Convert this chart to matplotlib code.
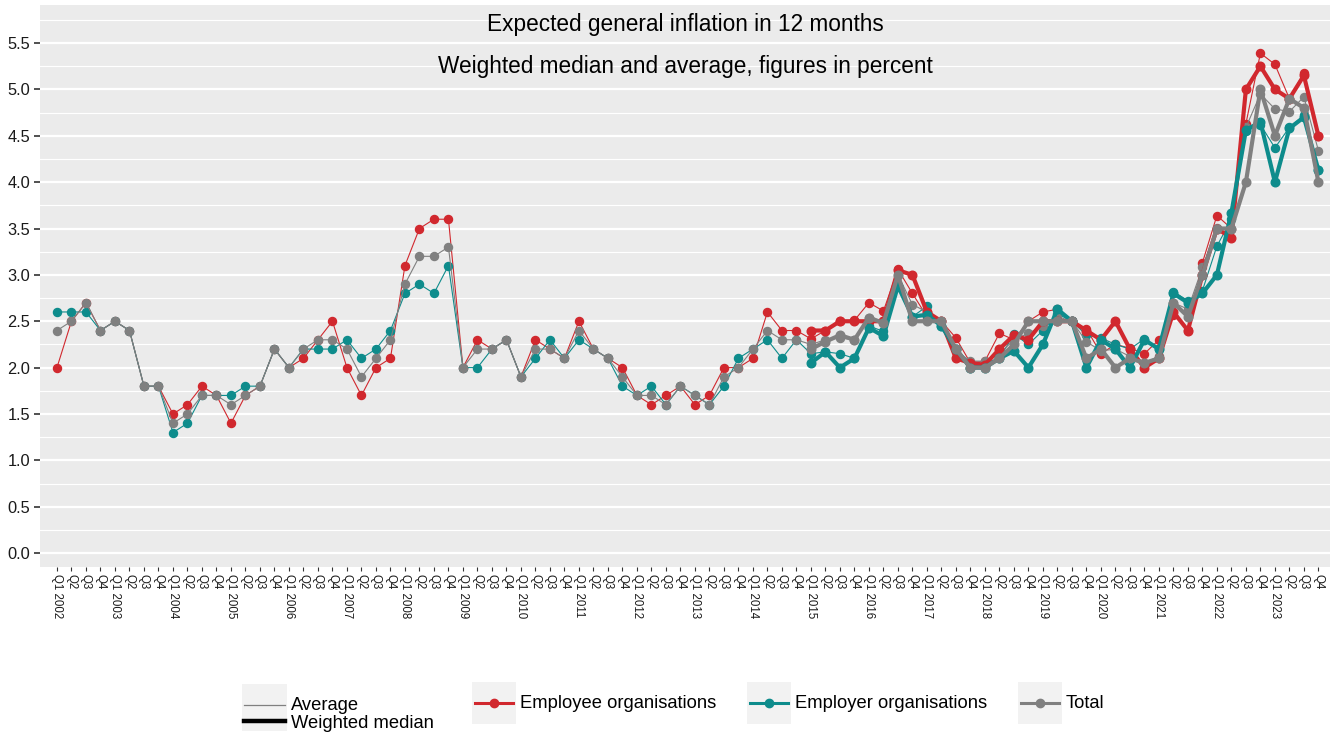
import matplotlib
matplotlib.use("Agg")
import matplotlib.pyplot as plt
from matplotlib.lines import Line2D
from matplotlib.patches import Rectangle
import numpy as np

plt.rcParams['font.family'] = ['Liberation Sans', 'DejaVu Sans']

years = list(range(2002, 2024))
quarter_labels = []
for y in years:
    for q in range(1, 5):
        quarter_labels.append(f"Q{q} {y}" if q == 1 else f"Q{q}")

# Average (thin lines), 2002 Q1 - 2023 Q4
avg_employee = [
    2.0, 2.5, 2.7, 2.4, 2.5, 2.4, 1.8, 1.8, 1.5, 1.6, 1.8, 1.7,
    1.4, 1.7, 1.8, 2.2, 2.0, 2.1, 2.3, 2.5, 2.0, 1.7, 2.0, 2.1,
    3.1, 3.5, 3.6, 3.6, 2.0, 2.3, 2.2, 2.3, 1.9, 2.3, 2.2, 2.1,
    2.5, 2.2, 2.1, 2.0, 1.7, 1.6, 1.7, 1.8, 1.6, 1.7, 2.0, 2.0,
    2.1, 2.6, 2.4, 2.4,
    2.31, 2.40, 2.50, 2.51, 2.70, 2.61, 3.06, 2.80,
    2.55, 2.50, 2.32, 2.05, 2.07, 2.37, 2.30, 2.50,
    2.60, 2.63, 2.50, 2.42, 2.15, 2.25, 2.21, 2.15,
    2.30, 2.57, 2.41, 3.13, 3.64, 3.50, 4.63, 5.39,
    5.27, 4.90, 5.18, 4.50]
avg_employer = [
    2.6, 2.6, 2.6, 2.4, 2.5, 2.4, 1.8, 1.8, 1.3, 1.4, 1.7, 1.7,
    1.7, 1.8, 1.8, 2.2, 2.0, 2.2, 2.2, 2.2, 2.3, 2.1, 2.2, 2.4,
    2.8, 2.9, 2.8, 3.1, 2.0, 2.0, 2.2, 2.3, 1.9, 2.1, 2.3, 2.1,
    2.3, 2.2, 2.1, 1.8, 1.7, 1.8, 1.6, 1.8, 1.7, 1.6, 1.8, 2.1,
    2.2, 2.3, 2.1, 2.3,
    2.15, 2.17, 2.15, 2.10, 2.45, 2.39, 2.88, 2.55,
    2.66, 2.45, 2.20, 2.00, 2.05, 2.10, 2.36, 2.25,
    2.40, 2.58, 2.50, 2.35, 2.32, 2.25, 2.20, 2.31,
    2.20, 2.82, 2.72, 2.83, 3.31, 3.60, 4.55, 4.62,
    4.37, 4.59, 4.72, 4.13]
avg_total = [
    2.4, 2.5, 2.7, 2.4, 2.5, 2.4, 1.8, 1.8, 1.4, 1.5, 1.7, 1.7,
    1.6, 1.7, 1.8, 2.2, 2.0, 2.2, 2.3, 2.3, 2.2, 1.9, 2.1, 2.3,
    2.9, 3.2, 3.2, 3.3, 2.0, 2.2, 2.2, 2.3, 1.9, 2.2, 2.2, 2.1,
    2.4, 2.2, 2.1, 1.9, 1.7, 1.7, 1.6, 1.8, 1.7, 1.6, 1.9, 2.0,
    2.2, 2.4, 2.3, 2.3,
    2.25, 2.30, 2.32, 2.30, 2.54, 2.50, 3.00, 2.68,
    2.60, 2.50, 2.18, 2.07, 2.07, 2.15, 2.30, 2.37,
    2.45, 2.55, 2.50, 2.28, 2.18, 2.20, 2.12, 2.05,
    2.12, 2.70, 2.63, 3.08, 3.51, 3.50, 4.59, 4.95,
    4.79, 4.76, 4.92, 4.34]

# Weighted median (thick lines), 2015 Q1 - 2023 Q4
median_start = quarter_labels.index("Q1 2015")
med_employee = [
    2.40, 2.40, 2.50, 2.50, 2.50, 2.50, 3.05, 3.00,
    2.60, 2.50, 2.10, 2.05, 2.03, 2.20, 2.35, 2.30,
    2.50, 2.50, 2.50, 2.40, 2.30, 2.50, 2.20, 2.00,
    2.10, 2.60, 2.40, 3.00, 3.50, 3.40, 5.00, 5.25,
    5.00, 4.90, 5.15, 4.50]
med_employer = [
    2.05, 2.17, 2.00, 2.10, 2.43, 2.34, 2.88, 2.55,
    2.57, 2.45, 2.20, 2.00, 2.00, 2.10, 2.18, 2.00,
    2.25, 2.63, 2.50, 2.00, 2.30, 2.20, 2.00, 2.30,
    2.20, 2.80, 2.70, 2.80, 3.00, 3.67, 4.56, 4.65,
    4.00, 4.58, 4.70, 4.13]
med_total = [
    2.20, 2.28, 2.35, 2.30, 2.54, 2.48, 3.00, 2.50,
    2.50, 2.50, 2.20, 2.00, 2.00, 2.10, 2.25, 2.50,
    2.50, 2.50, 2.50, 2.10, 2.20, 2.00, 2.10, 2.05,
    2.10, 2.70, 2.55, 3.00, 3.50, 3.50, 4.00, 5.00,
    4.50, 4.90, 4.80, 4.00]

series_names = ["Employee organisations", "Employer organisations", "Total"]
colors = ["#D1282E", "#0E8C8C", "#808080"]

W, H = 1336, 735
fig = plt.figure(figsize=(W / 100, H / 100), dpi=100)
fig.patch.set_facecolor("white")
ax = fig.add_axes([40 / W, 1 - 567 / H, (1330 - 40) / W, (567 - 5) / H])
ax.set_facecolor("#EBEBEB")

x_all = np.arange(len(quarter_labels))
x_med = np.arange(median_start, median_start + len(med_total))

for vals, c in zip([avg_employee, avg_employer, avg_total], colors):
    ax.plot(x_all, vals, color=c, lw=0.8, marker="o", ms=5.8, mec=c, mfc=c, zorder=3)
for vals, c in zip([med_employee, med_employer, med_total], colors):
    ax.plot(x_med, vals, color=c, lw=3.0, marker="o", ms=6.2, mec=c, mfc=c, zorder=4)

ax.set_xlim(-1.17, 87.8)
ax.set_ylim(-0.15, 5.91)
ax.set_yticks(np.arange(0, 5.51, 0.5))
ax.set_yticklabels([f"{v:.1f}" for v in np.arange(0, 5.51, 0.5)], fontsize=11.8, color="#1a1a1a")
ax.set_yticks(np.arange(0.25, 5.9, 0.5), minor=True)
ax.grid(which="major", axis="y", color="white", lw=1.6, zorder=0)
ax.grid(which="minor", axis="y", color="white", lw=0.8, zorder=0)
ax.set_axisbelow(True)
ax.set_xticks(x_all)
ax.set_xticklabels(quarter_labels, rotation=270, fontsize=8.3, color="#1a1a1a",
                   va="top", ha="center")
ax.tick_params(axis="x", length=3, color="#333333", pad=2)
ax.tick_params(axis="y", length=4, color="#333333", width=1.2, pad=3)
ax.tick_params(axis="y", which="minor", length=0)
for s in ax.spines.values():
    s.set_visible(False)

ax.text(0.5, 1 - (24 - 5) / 562, "Expected general inflation in 12 months", transform=ax.transAxes,
        ha="center", va="center", fontsize=16.3, color="black")
ax.text(0.5, 1 - (66 - 5) / 562, "Weighted median and average, figures in percent",
        transform=ax.transAxes, ha="center", va="center", fontsize=16.3, color="black")

# Legend drawn in pixel coordinates on an overlay axes
lg = fig.add_axes([0, 0, 1, 1])
lg.set_xlim(0, W)
lg.set_ylim(H, 0)
lg.axis("off")
key_bg = "#F2F2F2"
# group 1: line types
lg.add_patch(Rectangle((242, 684), 45, 47, facecolor=key_bg, edgecolor="none"))
lg.add_line(Line2D([244, 285], [705, 705], color="#808080", lw=0.9))
lg.add_line(Line2D([244, 285], [721, 721], color="black", lw=3.2))
lg.text(291, 705, "Average", fontsize=13.2, va="center", ha="left")
lg.text(291, 723, "Weighted median", fontsize=13.2, va="center", ha="left")
# series keys
for (x0, txt), c in zip([(472, series_names[0]), (747, series_names[1]), (1018, series_names[2])], colors):
    lg.add_patch(Rectangle((x0, 682), 44, 42, facecolor=key_bg, edgecolor="none"))
    lg.add_line(Line2D([x0 + 3, x0 + 41], [703, 703], color=c, lw=2.2))
    lg.add_line(Line2D([x0 + 22], [703], color=c, marker="o", ms=6, lw=0))
    lg.text(x0 + 48, 703, txt, fontsize=13.2, va="center", ha="left")

fig.savefig("out.png", dpi=100)
